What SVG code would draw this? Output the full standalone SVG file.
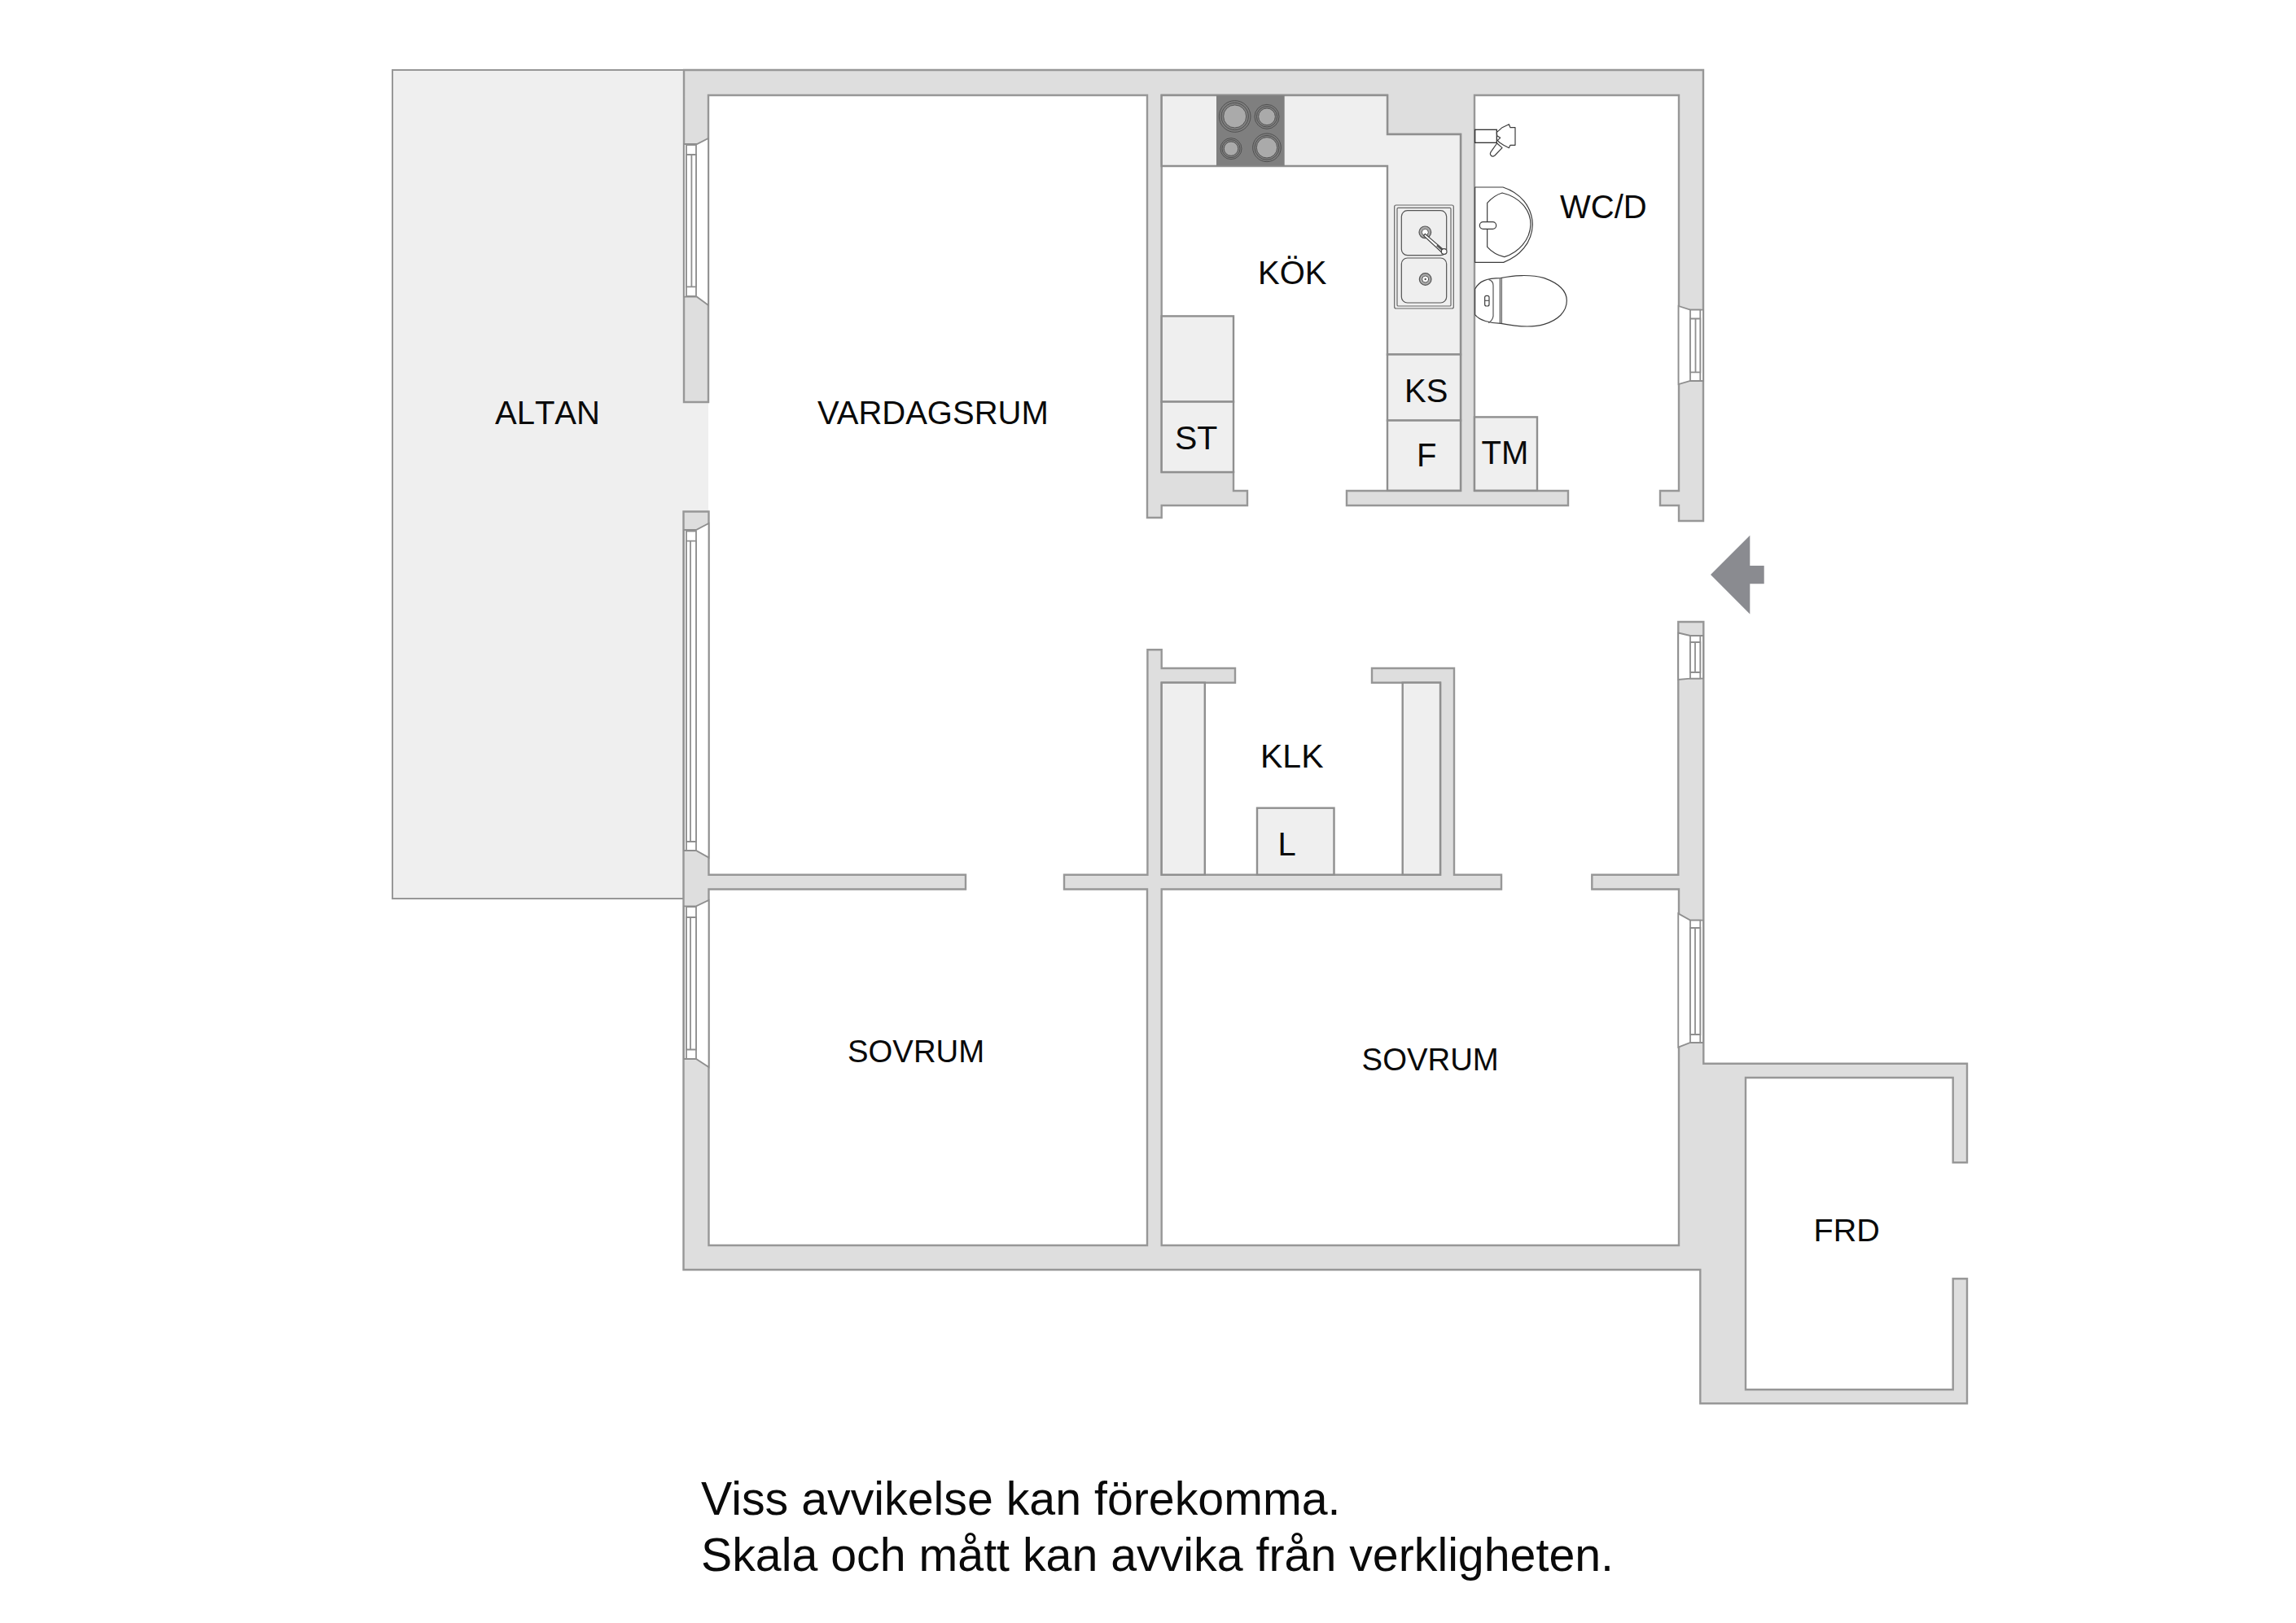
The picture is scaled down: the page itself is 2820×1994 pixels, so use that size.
<svg xmlns="http://www.w3.org/2000/svg" width="2820" height="1994" viewBox="0 0 2820 1994">
<style>
.wall{fill:#dedede;stroke:#979797;stroke-width:2.4;stroke-linejoin:miter}
.unit{fill:#efefef;stroke:#8f8f8f;stroke-width:2.4}
.win{fill:#fff;stroke:#8f8f8f;stroke-width:1.8}
.fx{fill:#fff;stroke:#3c3c3c;stroke-width:3.6;stroke-linejoin:round}
.fs{fill:none;stroke:#555;stroke-width:3.6}
.bu{fill:#aaa;stroke:#444;stroke-width:2.4}
.bn{fill:none;stroke:#444;stroke-width:2.4}
text{font-family:"Liberation Sans",Arial,sans-serif;fill:#0a0a0a;font-size:40px}
.foot{font-size:57.3px}
</style>
<rect width="2820" height="1994" fill="#fff"/>
<g id="altan">
<rect x="482" y="86" width="358" height="1018" fill="#efefef" stroke="#979797" stroke-width="2"/>
<rect x="838" y="493" width="32" height="136" fill="#efefef"/>
<text x="608" y="521" style="font-kerning:none">ALTAN</text>
</g>
<g id="walls">
<path class="wall" d="M840 494V86H2092V640H2062V621H2039V603H2062V117H1811V603H1926V621H1654V603H1794V165H1704V117H1426.7V580H1515V603H1532V621H1426.7V636H1409V117H870V494Z"/>
<path class="wall" d="M839.5 628.5H870.5V1074.7H1186V1092.5H870.5V1530H1409V1092.5H1307V1074.7H1409.4V798.3H1426.7V821H1517V838.7H1426.7V1074.7H1769V838.7H1685V821H1786V1074.7H1844V1092.5H1426.7V1530H2062V1092.5H1955.3V1074.7H2061.3V764H2092.3V1306.7H2416V1428.3H2398.7V1324H2144V1707.3H2398.7V1571H2416V1724.3H2088.3V1560H839.5Z"/>
</g>
<g id="windows">
<g id="win-west-1">
<path class="win" d="M840 177H856L870 170V375L856 364.7H840Z"/>
<path class="win" d="M843 178H855V364H843Z"/>
<path class="win" d="M843 190H849.4V352.4H843ZM849.4 190H855V352.4H849.4Z"/>
</g>
<g id="win-west-2">
<path class="win" d="M840 651H855L870.5 643V1053.6L855 1045H840Z"/>
<path class="win" d="M843 652.6H855V1045H843Z"/>
<path class="win" d="M843 664.6H848V1034H843ZM848 664.6H855V1034H848Z"/>
</g>
<g id="win-west-3">
<path class="win" d="M840 1113.4H855L870.5 1106V1311L855 1301H840Z"/>
<path class="win" d="M843 1114H855V1301H843Z"/>
<path class="win" d="M843 1127H848V1289.5H843ZM848 1127H855V1289.5H848Z"/>
</g>
<g id="win-east-1">
<path class="win" d="M2061.6 376L2076 380.7H2092V468H2076L2061.6 472Z"/>
<path class="win" d="M2076 380.7H2088.3V468H2076Z"/>
<path class="win" d="M2076 391.5H2082.5V457.3H2076ZM2082.5 391.5H2088.3V457.3H2082.5Z"/>
</g>
<g id="win-east-2">
<path class="win" d="M2061.3 777.5L2076 781H2092V833.7H2076L2061.3 835Z"/>
<path class="win" d="M2076 781H2088.3V833.7H2076Z"/>
<path class="win" d="M2076 789H2082V826H2076ZM2082 789H2088.3V826H2082Z"/>
</g>
<g id="win-east-3">
<path class="win" d="M2061.3 1122.4L2076 1130.6H2092V1281H2076L2061.3 1286.7Z"/>
<path class="win" d="M2076 1130.6H2088.3V1281H2076Z"/>
<path class="win" d="M2076 1140H2082V1271H2076ZM2082 1140H2088.3V1271H2082Z"/>
</g>
</g>
<g id="kitchen">
<path class="unit" d="M1426.7 117H1704V165H1794V435.5H1704V204H1426.7Z"/>
<rect class="unit" x="1426.7" y="388.4" width="88.3" height="105.2"/>
<rect class="unit" x="1426.7" y="493.6" width="88.3" height="86.4"/>
<rect class="unit" x="1704" y="435.5" width="90" height="81.1"/>
<rect class="unit" x="1704" y="516.6" width="90" height="86.1"/>
<g id="cooktop" transform="translate(1480 100) scale(.33333)">
<rect x="42" y="52" width="251" height="259" fill="#7f7f7f"/>
<circle cx="110" cy="129" r="58" class="bn"/><circle cx="110" cy="129" r="50" class="bn"/><circle cx="110" cy="129" r="42" class="bu"/>
<circle cx="228" cy="130" r="45" class="bn"/><circle cx="228" cy="130" r="38" class="bn"/><circle cx="228" cy="130" r="31" class="bu"/>
<circle cx="96" cy="248" r="39" class="bn"/><circle cx="96" cy="248" r="33" class="bn"/><circle cx="96" cy="248" r="26" class="bu"/>
<circle cx="228" cy="244" r="52" class="bn"/><circle cx="228" cy="244" r="45" class="bn"/><circle cx="228" cy="244" r="38" class="bu"/>
</g>
<g id="sink" transform="translate(1480 100) scale(.33333)">
<rect x="698" y="456" width="218" height="381" rx="6" fill="none" stroke="#666" stroke-width="3.6"/>
<rect x="708" y="466" width="198" height="362" rx="4" fill="none" stroke="#666" stroke-width="3.6"/>
<rect x="724" y="476" width="166" height="165" rx="22" fill="none" stroke="#555" stroke-width="3.6"/>
<rect x="724" y="651" width="166" height="165" rx="22" fill="none" stroke="#555" stroke-width="3.6"/>
<circle cx="812" cy="729" r="22" fill="#aaa" stroke="#555" stroke-width="3.6"/><circle cx="812" cy="729" r="12" fill="#fff" stroke="#555" stroke-width="3"/><circle cx="812" cy="729" r="3.5" fill="#555"/>
<circle cx="811" cy="556" r="22" fill="#aaa" stroke="#555" stroke-width="3.6"/><circle cx="811" cy="556" r="12" fill="#fff" stroke="#555" stroke-width="3"/>
<path d="M806 569L811 562L878 620L872 630Z" fill="#fff" stroke="#444" stroke-width="3.6"/>
<path d="M855 604L876 622" stroke="#555" stroke-width="8" fill="none"/>
<circle cx="881" cy="627" r="10" fill="#fff" stroke="#444" stroke-width="3.6"/>
</g>
<text x="1545" y="349">KÖK</text>
<text x="1443" y="552" style="font-size:41px">ST</text>
<text x="1725" y="494">KS</text>
<text x="1740" y="573">F</text>
</g>
<g id="bathroom">
<rect class="unit" x="1811" y="512.4" width="77" height="90.3"/>
<g id="fixtures" transform="translate(1800 110) scale(.33333)">
<rect x="35" y="148" width="80" height="48" fill="#fff" stroke="#333" stroke-width="4"/>
<path class="fx" d="M115 158L135 140L160 128L165 140H183V205H165L160 215L140 205L125 195L118 187L128 178L116 170Z"/>
<path class="fx" d="M116 198L135 215L108 243Q98 250 93 242Q88 236 96 226Z"/>
<path class="fx" d="M35 360H138C200 380 245 430 247 497C245 565 200 615 140 637H35Z" stroke="#555"/>
<path class="fx" d="M80 418Q105 390 135 381C195 395 240 440 240 497C238 555 195 600 143 617Q105 608 80 580Z" stroke="#555"/>
<rect class="fx" x="52" y="488" width="61" height="26" rx="13" stroke="#555"/>
<path class="fx" d="M35 735C50 705 80 695 130 695C170 685 240 680 290 695C345 715 373 740 373 778C373 820 340 850 290 865C240 880 170 870 130 862C90 862 50 850 35 830Z" stroke-width="4.5"/>
<path class="fs" d="M85 700Q102 705 102 722V835Q100 850 85 860M127 697V862M133 697V862"/>
<rect class="fx" x="71" y="760" width="16" height="38" rx="6" stroke="#555"/>
<path class="fs" d="M71 778H87"/>
</g>
<text x="1916" y="268">WC/D</text>
<text x="1819.5" y="570">TM</text>
</g>
<g id="closet">
<rect class="unit" x="1426.7" y="838.7" width="53.1" height="236"/>
<rect class="unit" x="1722.7" y="838.7" width="46.3" height="236"/>
<rect class="unit" x="1544" y="992.7" width="94.5" height="82"/>
<text x="1548" y="943" style="font-size:41px">KLK</text>
<text x="1569.5" y="1051">L</text>
</g>
<g id="vardagsrum"><text x="1004" y="521">VARDAGSRUM</text></g>
<g id="sovrum-1"><text x="1041" y="1305" style="font-size:38.3px">SOVRUM</text></g>
<g id="sovrum-2"><text x="1672.6" y="1315" style="font-size:38.3px">SOVRUM</text></g>
<g id="frd"><text x="2227.5" y="1525" style="font-size:39.5px">FRD</text></g>
<g id="entrance"><path d="M2101 706L2149.3 657.7V695H2166.7V717.3H2149.3V754.6Z" fill="#8a8b90"/></g>
<g id="note">
<text class="foot" x="861" y="1861">Viss avvikelse kan förekomma.</text>
<text class="foot" x="861" y="1930">Skala och mått kan avvika från verkligheten.</text>
</g>
</svg>
